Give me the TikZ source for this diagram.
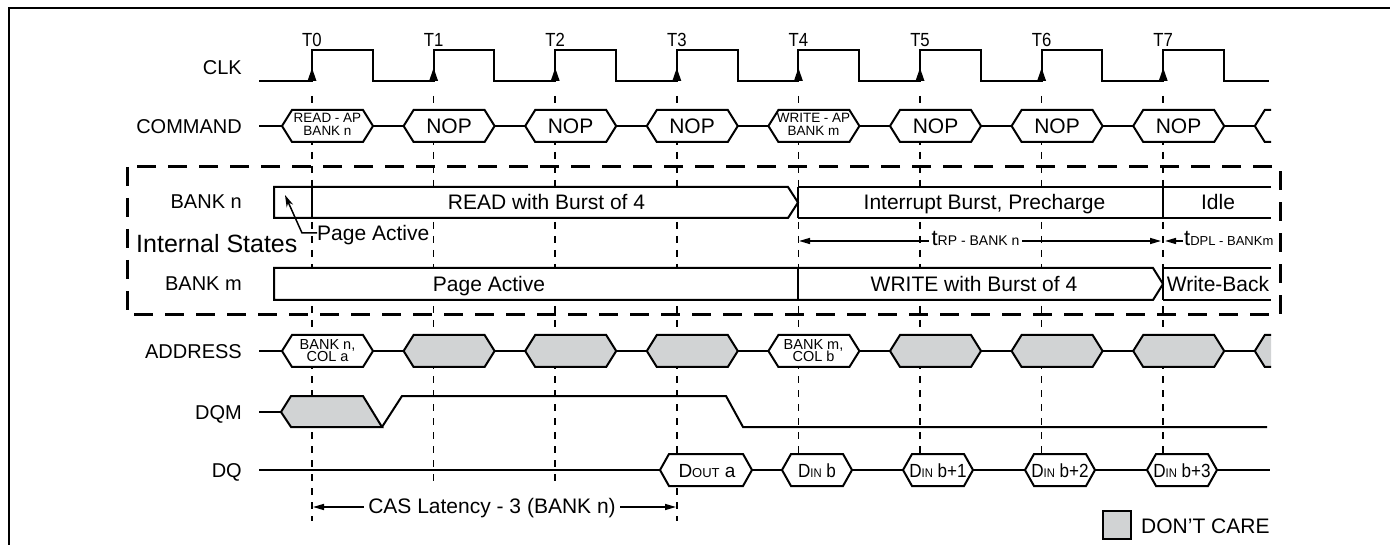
\documentclass[tikz,border=0pt]{standalone}
\usepackage{fontspec}
\setmainfont{Liberation Sans}
\newfontfamily\condf[FakeStretch=0.88]{Liberation Sans}
\newfontfamily\narf[FakeStretch=0.9]{Liberation Sans}
\usetikzlibrary{arrows.meta}
\definecolor{dcgray}{RGB}{209,211,212}
\newcommand{\sighex}[6]{%
  \filldraw[sig,fill=#6] (#1,#3) -- ({#1+#5},{#3-#4}) -- ({#2-#5},{#3-#4}) -- (#2,#3) -- ({#2-#5},{#3+#4}) -- ({#1+#5},{#3+#4}) -- cycle;}
\begin{document}
\begin{tikzpicture}[x=1pt,y=-1pt,
  sig/.style={line width=2pt},
  vdash/.style={line width=1.6pt, dash pattern=on 7pt off 7pt},
  boxdash/.style={line width=3pt, dash pattern=on 19pt off 12pt},
  arrowend/.style={-{Triangle[length=11pt,width=6pt]}},
  arrowboth/.style={{Triangle[length=11pt,width=6pt]}-{Triangle[length=11pt,width=6pt]}},
  lab20/.style={font=\fontsize{20}{24}\selectfont, inner sep=0pt, text height=14.4pt, text depth=0pt},
  lab21/.style={font=\fontsize{21}{25}\selectfont, inner sep=0pt, text height=15.1pt, text depth=0pt},
  lab25/.style={font=\fontsize{25}{30}\selectfont, inner sep=0pt, text height=18pt, text depth=0pt},
  tlab/.style={font=\condf\fontsize{19}{21}\selectfont, inner sep=0pt, text height=13.7pt, text depth=0pt},
  twoline/.style={font=\fontsize{13.5}{12.5}\selectfont, align=center, inner sep=0pt},
  addr/.style={font=\fontsize{14.5}{12.5}\selectfont, align=center, inner sep=0pt},
  dqlab/.style={anchor=base, inner sep=0pt, font=\fontsize{19}{22}\selectfont},
]
\useasboundingbox (0,0) rectangle (1390,545);
% frame
\draw[line width=2.5pt] (9,550) -- (9,8) -- (1395,8);
% internal states box
\draw[boxdash] (127,167) rectangle (1280,315);
% vertical dashed lines
\foreach \k/\e in {0/521,1/488,2/488,3/521,4/488,5/488,6/488,7/488} {
  \pgfmathsetmacro\tx{312+121.6*\k}
  \draw[vdash] (\tx,96) -- (\tx,\e);
}
% clock
\draw[sig] (259,81) \foreach \k in {0,...,7} {
  -- ({312+121.6*\k},81) -- ({312+121.6*\k},50) -- ({372.8+121.6*\k},50) -- ({372.8+121.6*\k},81) } -- (1269,81);
\foreach \k in {0,...,7} {
  \pgfmathsetmacro\tx{312+121.6*\k}
  \fill ({\tx-4.5},81) -- (\tx,68) -- ({\tx+4.5},81) -- cycle;
  \node[tlab] (t\k) at (\tx,40) {T\k};
}
% COMMAND row
\draw[sig] (259,126) -- (1262,126);
\foreach \k in {0,...,7} {
  \pgfmathsetmacro\xl{312+121.6*\k-30}
  \pgfmathsetmacro\xr{312+121.6*\k+61}
  \sighex{\xl}{\xr}{126}{16}{10}{white}
}
\filldraw[sig,fill=white] (1271,110) -- (1264.8,110) -- (1254.8,126) -- (1264.8,142) -- (1271,142);
\node[twoline] (c0) at (327.5,124.5) {READ - AP\\BANK n};
\node[lab21] (c1) at (449,126) {NOP};
\node[lab21] (c2) at (570.5,126) {NOP};
\node[lab21] (c3) at (692,126) {NOP};
\node[twoline] (c4) at (813.5,124.5) {WRITE - AP\\BANK m};
\node[lab21] (c5) at (935.5,126) {NOP};
\node[lab21] (c6) at (1057,126) {NOP};
\node[lab21] (c7) at (1178.5,126) {NOP};
% BANK n row
\fill[white] (274,187) rectangle (1271,218);
\draw[sig] (1271,187) -- (798,187);
\draw[sig] (788,187) -- (274,187) -- (274,218) -- (788,218) -- (798,202.5) -- cycle;
\draw[sig] (798,218) -- (1271,218);
\draw[sig] (798.4,187) -- (798.4,218);
\draw[sig] (312,187) -- (312,218);
\draw[sig] (1163.2,187) -- (1163.2,218);
% BANK m row
\fill[white] (274,268) rectangle (1271,300);
\draw[sig] (274,268) -- (1153,268) -- (1163,284) -- (1153,300) -- (274,300) -- cycle;
\draw[sig] (1163,268) -- (1271,268);
\draw[sig] (1163,300) -- (1271,300);
\draw[sig] (798.4,268) -- (798.4,300);
\draw[sig] (1163.2,268) -- (1163.2,300);
% bank texts
\node[lab21] (rd) at (546.5,202) {READ with Burst of 4};
\node[lab21] (ib) at (984.5,202) {Interrupt Burst, Precharge};
\node[lab21] (idl) at (1218,202) {Idle};
\node[lab21] (pam) at (489,284) {Page Active};
\node[lab21] (wr) at (974,284) {WRITE with Burst of 4};
\node[lab21] (wb) at (1218,284) {Write-Back};
% page active pointer
\node[lab21, anchor=west] (pa) at (317,233) {Page Active};
\coordinate (patip) at (285,195);
\draw[line width=1.5pt, -{Stealth[length=12pt,width=7pt]}] (pa.west) -- ++(-15,0) -- (patip);
% tRP / tDPL
\coordinate (trpA) at (799,241);
\coordinate (trpB) at (1161,241);
\draw[line width=1.5pt, arrowboth] (trpA) -- (trpB);
\node[anchor=base, fill=white, inner xsep=3pt, inner ysep=1pt] (trp) at (975.5,246)
  {{\fontsize{22}{24}\selectfont t}{\fontsize{14}{16}\selectfont RP - BANK n}};
\coordinate (tdplA) at (1183,241);
\coordinate (tdplB) at (1165,241);
\draw[line width=1.5pt, arrowend] (tdplA) -- (tdplB);
\node[anchor=base west, inner sep=0pt] (tdpl) at (1184,246)
  {{\fontsize{22}{24}\selectfont t}{\fontsize{13}{16}\selectfont DPL - BANKm}};
% ADDRESS row
\draw[sig] (259,351) -- (1262,351);
\foreach \k/\f in {0/white,1/dcgray,2/dcgray,3/dcgray,4/white,5/dcgray,6/dcgray,7/dcgray} {
  \pgfmathsetmacro\xl{312+121.6*\k-30}
  \pgfmathsetmacro\xr{312+121.6*\k+61}
  \sighex{\xl}{\xr}{351}{16}{10}{\f}
}
\filldraw[sig,fill=dcgray] (1271,335) -- (1264.8,335) -- (1254.8,351) -- (1264.8,367) -- (1271,367);
\node[addr] (a0) at (327.5,350.5) {BANK n,\\COL a};
\node[addr] (a4) at (813.5,350.5) {BANK m,\\COL b};
% DQM row
\draw[sig] (259,412) -- (281,412);
\filldraw[sig,fill=dcgray] (281,412) -- (291,396) -- (363,396) -- (382,427) -- (291,427) -- cycle;
\draw[sig] (382,427) -- (402,396) -- (726,396) -- (743,427) -- (1267,427);
% DQ row
\draw[sig] (259,470) -- (1270,470);
\sighex{660}{752}{470}{16}{9}{white}
\sighex{782}{852}{470}{16}{9}{white}
\sighex{903}{973}{470}{16}{9}{white}
\sighex{1025}{1095}{470}{16}{9}{white}
\sighex{1147}{1217}{470}{16}{9}{white}
\node[dqlab] (dq0) at (707,477) {D{\fontsize{13}{14}\selectfont OUT} a};
\node[dqlab] (dq1) at (817,477) {\narf D{\fontsize{12.5}{14}\selectfont IN} b};
\node[dqlab] (dq2) at (938,477) {\narf D{\fontsize{12.5}{14}\selectfont IN} b+1};
\node[dqlab] (dq3) at (1060,477) {\narf D{\fontsize{12.5}{14}\selectfont IN} b+2};
\node[dqlab] (dq4) at (1182,477) {\narf D{\fontsize{12.5}{14}\selectfont IN} b+3};
% CAS latency
\coordinate (casA) at (313,507);
\coordinate (casB) at (676,507);
\draw[line width=1.5pt, arrowboth] (casA) -- (casB);
\node[lab21, fill=white, inner xsep=4pt] (cas) at (492,505.5) {CAS Latency - 3 (BANK n)};
% left labels
\node[lab20, anchor=east] (lclk) at (242,67) {CLK};
\node[lab20, anchor=east] (lcmd) at (242,126) {COMMAND};
\node[lab20, anchor=east] (lbn) at (242,201.5) {BANK n};
\node[lab20, anchor=east] (lbm) at (242,283) {BANK m};
\node[lab25, anchor=west] (lis) at (136,243.5) {Internal States};
\node[lab20, anchor=east] (ladr) at (242,351) {ADDRESS};
\node[lab20, anchor=east] (ldqm) at (242,412) {DQM};
\node[lab20, anchor=east] (ldq) at (242,470) {DQ};
% legend
\node[draw, line width=2pt, fill=dcgray, minimum width=28pt, minimum height=28pt, inner sep=0pt] (dcbox) at (1117,525) {};
\node[lab21, anchor=west] (dctext) at (1141,526) {DON'T CARE};
\end{tikzpicture}
\end{document}
